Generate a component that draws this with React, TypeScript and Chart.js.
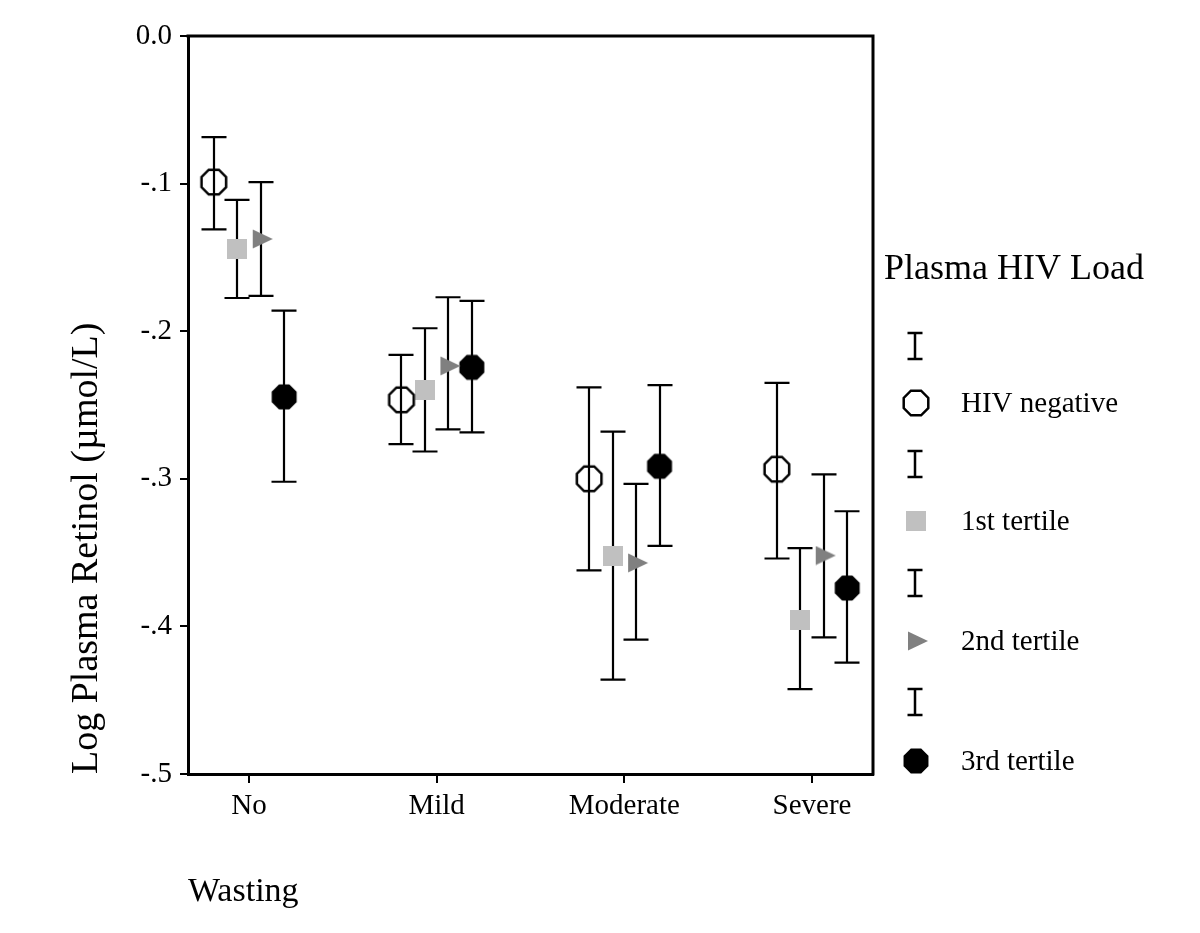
import React, { useEffect, useRef } from "react";
import { Chart, registerables } from "chart.js";

Chart.register(...registerables);

// ---------- data ----------
const categories = ["No", "Mild", "Moderate", "Severe"];
const seriesNames = ["HIV negative", "1st tertile", "2nd tertile", "3rd tertile"];

const hivNegMean = [-0.099, -0.2465, -0.300, -0.2935];
const hivNegLow = [-0.131, -0.2765, -0.362, -0.354];
const hivNegHigh = [-0.0685, -0.216, -0.238, -0.235];

const tert1Mean = [-0.144, -0.240, -0.352, -0.3955];
const tert1Low = [-0.1775, -0.2815, -0.436, -0.4425];
const tert1High = [-0.111, -0.198, -0.268, -0.347];

const tert2Mean = [-0.1375, -0.2235, -0.357, -0.352];
const tert2Low = [-0.176, -0.2665, -0.409, -0.4075];
const tert2High = [-0.099, -0.177, -0.3035, -0.297];

const tert3Mean = [-0.2445, -0.2245, -0.2915, -0.374];
const tert3Low = [-0.302, -0.2685, -0.3455, -0.4245];
const tert3High = [-0.186, -0.1795, -0.2365, -0.322];

const yTickLabels = ["0.0", "-.1", "-.2", "-.3", "-.4", "-.5"];
const xTitle = "Wasting";
const yTitle = "Log Plasma Retinol (\u00b5mol/L)";
const legendTitle = "Plasma HIV Load";

// ---------- styling ----------
const SERIF = "'Liberation Serif', 'Times New Roman', Times, serif";
const groupOffsets = [-0.1875, -0.0625, 0.0625, 0.1875];

function octagon(r: number, fill: string | null, stroke: string | null, lw: number) {
  const size = 2 * Math.ceil(r + lw / 2 + 2);
  const c = document.createElement("canvas");
  c.width = size;
  c.height = size;
  const ctx = c.getContext("2d")!;
  const cx = size / 2;
  ctx.beginPath();
  for (let k = 0; k < 8; k++) {
    const a = Math.PI / 8 + (k * Math.PI) / 4;
    const px = cx + r * Math.cos(a);
    const py = cx + r * Math.sin(a);
    if (k === 0) ctx.moveTo(px, py);
    else ctx.lineTo(px, py);
  }
  ctx.closePath();
  if (fill) {
    ctx.fillStyle = fill;
    ctx.fill();
  }
  if (stroke) {
    ctx.lineWidth = lw;
    ctx.strokeStyle = stroke;
    ctx.stroke();
  }
  return c;
}

function square(side: number, color: string) {
  const c = document.createElement("canvas");
  c.width = side;
  c.height = side;
  const ctx = c.getContext("2d")!;
  ctx.fillStyle = color;
  ctx.fillRect(0, 0, side, side);
  return c;
}

function triangle(color: string) {
  const c = document.createElement("canvas");
  c.width = 28;
  c.height = 20;
  const ctx = c.getContext("2d")!;
  ctx.fillStyle = color;
  ctx.beginPath();
  ctx.moveTo(6, 0.5);
  ctx.lineTo(26, 10);
  ctx.lineTo(6, 19.5);
  ctx.closePath();
  ctx.fill();
  return c;
}

export default function App() {
  const ref = useRef<HTMLCanvasElement | null>(null);

  useEffect(() => {
    document.body.style.margin = "0";
    const canvas = ref.current;
    if (!canvas) return;

    Chart.defaults.font.family = SERIF;
    Chart.defaults.color = "#000";

    const markers = [
      octagon(13.3, null, "#000", 2.5),
      square(20, "#c0c0c0"),
      triangle("#808080"),
      octagon(13.5, "#000", null, 0),
    ];
    const means = [hivNegMean, tert1Mean, tert2Mean, tert3Mean];
    const lows = [hivNegLow, tert1Low, tert2Low, tert3Low];
    const highs = [hivNegHigh, tert1High, tert2High, tert3High];

    const datasets = seriesNames.map((name, s) => ({
      label: name,
      data: categories.map((_, i) => ({ x: i + 1 + groupOffsets[s], y: means[s][i] })),
      errLow: lows[s],
      errHigh: highs[s],
      pointStyle: markers[s],
      pointRadius: 12,
      pointHoverRadius: 12,
      showLine: false,
    }));

    const errorBars = {
      id: "errorBars",
      beforeDatasetsDraw(chart: any) {
        const ctx = chart.ctx;
        const yScale = chart.scales.y;
        ctx.save();
        ctx.strokeStyle = "#000";
        ctx.lineWidth = 2.2;
        chart.data.datasets.forEach((ds: any, di: number) => {
          const meta = chart.getDatasetMeta(di);
          meta.data.forEach((pt: any, j: number) => {
            const x = Math.round(pt.x);
            const yl = yScale.getPixelForValue(ds.errLow[j]);
            const yh = yScale.getPixelForValue(ds.errHigh[j]);
            const cap = 12.5;
            ctx.beginPath();
            ctx.moveTo(x, yh);
            ctx.lineTo(x, yl);
            ctx.moveTo(x - cap, yh);
            ctx.lineTo(x + cap, yh);
            ctx.moveTo(x - cap, yl);
            ctx.lineTo(x + cap, yl);
            ctx.stroke();
          });
        });
        ctx.restore();
      },
    };

    const frameAndLegend = {
      id: "frameAndLegend",
      afterDraw(chart: any) {
        const ctx = chart.ctx;
        const a = chart.chartArea;
        ctx.save();
        // top and right frame lines
        ctx.strokeStyle = "#000";
        ctx.lineWidth = 3;
        ctx.beginPath();
        ctx.moveTo(a.left - 1.5, a.top);
        ctx.lineTo(a.right, a.top);
        ctx.lineTo(a.right, a.bottom + 1.5);
        ctx.stroke();

        // legend
        const lx = a.right + 11;
        ctx.fillStyle = "#000";
        ctx.font = `36px ${SERIF}`;
        ctx.textAlign = "left";
        ctx.textBaseline = "alphabetic";
        ctx.fillText(legendTitle, lx, 279);

        const beamY = [346, 464, 583, 702];
        const markY = [403, 521, 641, 761];
        const mx = a.right + 42;
        ctx.lineWidth = 2.5;
        ctx.font = `29px ${SERIF}`;
        ctx.textBaseline = "middle";
        seriesNames.forEach((name, s) => {
          const by = beamY[s];
          ctx.beginPath();
          ctx.moveTo(mx, by - 13);
          ctx.lineTo(mx, by + 13);
          ctx.moveTo(mx - 7.5, by - 13);
          ctx.lineTo(mx + 7.5, by - 13);
          ctx.moveTo(mx - 7.5, by + 13);
          ctx.lineTo(mx + 7.5, by + 13);
          ctx.stroke();
          const m = markers[s];
          ctx.drawImage(m, Math.round(mx + 1 - m.width / 2), Math.round(markY[s] - m.height / 2));
          ctx.fillText(name, a.right + 88, markY[s] + 1);
        });
        ctx.restore();
      },
    };

    const chart = new Chart(canvas, {
      type: "scatter",
      data: { datasets: datasets as any },
      plugins: [errorBars, frameAndLegend],
      options: {
        responsive: false,
        animation: false,
        devicePixelRatio: 1,
        events: [],
        layout: { padding: { left: 64, right: 327, top: 36, bottom: 0 } },
        plugins: {
          legend: { display: false },
          tooltip: { enabled: false },
          title: { display: false },
        },
        scales: {
          x: {
            type: "linear",
            bounds: "data",
            min: 0.675,
            max: 4.325,
            afterBuildTicks: (s: any) => {
              s.ticks = categories.map((_, i) => ({ value: i + 1 }));
            },
            afterFit: (s: any) => {
              s.height = 159;
            },
            ticks: {
              callback: (v: any) => categories[Math.round(Number(v)) - 1] ?? "",
              font: { family: SERIF, size: 29 },
              color: "#000",
              padding: 6,
              maxRotation: 0,
              autoSkip: false,
            },
            grid: { drawOnChartArea: false, drawTicks: true, tickLength: 9, color: "#000", lineWidth: 2 },
            border: { display: true, color: "#000", width: 3 },
            title: {
              display: true,
              text: xTitle,
              align: "start",
              font: { family: SERIF, size: 34 },
              color: "#000",
              padding: { top: 0, bottom: 21 },
            },
          },
          y: {
            type: "linear",
            min: -0.5,
            max: 0,
            afterFit: (s: any) => {
              s.width = 124;
            },
            ticks: {
              stepSize: 0.1,
              callback: (v: any) => yTickLabels[Math.round(-Number(v) * 10)] ?? "",
              font: { family: SERIF, size: 29 },
              color: "#000",
              padding: 8,
            },
            grid: { drawOnChartArea: false, drawTicks: true, tickLength: 8, color: "#000", lineWidth: 2 },
            border: { display: true, color: "#000", width: 3 },
            title: {
              display: true,
              text: yTitle,
              align: "start",
              font: { family: SERIF, size: 38 },
              color: "#000",
              padding: { top: 0, bottom: 0 },
            },
          },
        },
      } as any,
    });

    return () => chart.destroy();
  }, []);

  return (
    <div style={{ width: 1200, height: 933 }}>
      <canvas ref={ref} width={1200} height={933} style={{ display: "block" }} />
    </div>
  );
}
